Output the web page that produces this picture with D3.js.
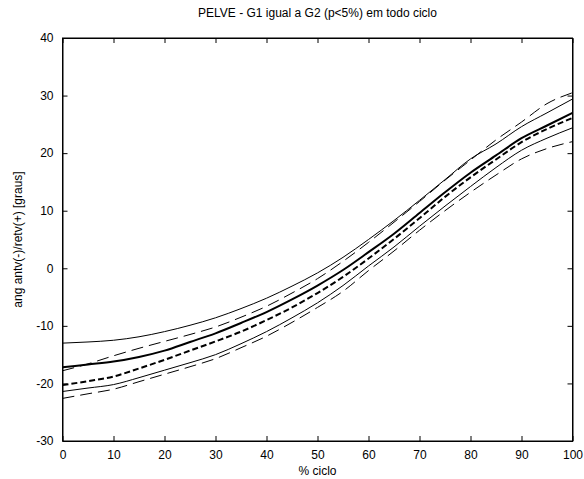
<!DOCTYPE html>
<html>
<head>
<meta charset="utf-8">
<script src="https://cdn.jsdelivr.net/npm/d3@7"></script>
<style>
  body { margin: 0; background: #fff; }
  text { font-family: "Liberation Sans", Arial, sans-serif; fill: #000; }
</style>
</head>
<body>
<div id="chart-container"></div>
<script>
// data
const pct = [0, 5, 10, 15, 20, 25, 30, 35, 40, 45, 50, 55, 60, 65, 70, 75, 80, 85, 90, 95, 100]
const g1Mean = [-17.2, -16.7, -16.2, -15.4, -14.3, -12.8, -11.3, -9.5, -7.6, -5.4, -3.0, -0.3, 2.8, 6.0, 9.6, 13.2, 16.6, 19.6, 22.6, 24.8, 27.0]
const g1Upper = [-13.0, -12.8, -12.5, -11.9, -11.0, -9.9, -8.6, -7.0, -5.2, -3.1, -0.8, 1.9, 5.0, 8.3, 11.8, 15.4, 19.0, 21.6, 24.6, 27.0, 29.4]
const g1Lower = [-21.4, -20.8, -20.2, -19.0, -17.7, -16.4, -15.0, -13.1, -11.0, -8.6, -6.0, -3.0, 0.4, 3.7, 7.3, 10.8, 14.2, 17.5, 20.5, 22.6, 24.4]
const g2Mean = [-20.3, -19.6, -18.8, -17.4, -15.9, -14.3, -12.7, -11.0, -9.0, -6.8, -4.3, -1.5, 1.7, 5.1, 8.7, 12.4, 15.8, 18.9, 21.9, 24.2, 26.1]
const g2Upper = [-17.8, -16.6, -15.2, -13.9, -12.7, -11.5, -10.2, -8.5, -6.6, -4.3, -1.8, 1.2, 4.5, 8.0, 11.6, 15.3, 18.8, 22.3, 25.4, 28.6, 30.5]
const g2Lower = [-22.6, -21.8, -21.0, -19.7, -18.4, -17.1, -15.7, -13.8, -11.8, -9.4, -6.8, -4.0, -0.4, 3.0, 6.6, 10.0, 13.2, 16.2, 19.0, 20.8, 22.0]
const xTicks = [0, 10, 20, 30, 40, 50, 60, 70, 80, 90, 100]
const yTicks = [-30, -20, -10, 0, 10, 20, 30, 40]

// constants
const width = 584
const height = 479
const margin = {left: 62.5, top: 38, right: 11.5, bottom: 38}
const plotW = width - margin.left - margin.right
const plotH = height - margin.top - margin.bottom

const svg = d3.select('#chart-container')
  .append('svg')
  .attr('width', width)
  .attr('height', height)

const g = svg.append('g')
  .attr('transform', `translate(${margin.left}, ${margin.top})`)

const xScale = d3.scaleLinear().domain([0, 100]).range([0, plotW])
const yScale = d3.scaleLinear().domain([-30, 40]).range([plotH, 0])

// axes, ticks inward on all four sides
const fmt = d => d3.format('d')(d).replace('−', '-')
g.append('g')
  .attr('transform', `translate(0, ${plotH})`)
  .call(d3.axisBottom(xScale).tickValues(xTicks).tickSize(-5).tickSizeOuter(0).tickPadding(9).tickFormat(fmt))
g.append('g')
  .call(d3.axisTop(xScale).tickValues(xTicks).tickSize(-5).tickSizeOuter(0).tickFormat(''))
g.append('g')
  .call(d3.axisLeft(yScale).tickValues(yTicks).tickSize(-5).tickSizeOuter(0).tickPadding(9).tickFormat(fmt))
g.append('g')
  .attr('transform', `translate(${plotW}, 0)`)
  .call(d3.axisRight(yScale).tickValues(yTicks).tickSize(-5).tickSizeOuter(0).tickFormat(''))

g.selectAll('.tick line').attr('stroke', '#000')
g.selectAll('.domain').attr('stroke', '#000')
g.selectAll('.tick text').attr('font-size', '12px').attr('font-family', '"Liberation Sans", Arial, sans-serif')

g.append('rect')
  .attr('width', plotW)
  .attr('height', plotH)
  .attr('fill', 'none')
  .attr('stroke', '#000')
  .attr('stroke-width', 1)

// the curves
const series = [
  {values: g1Upper, w: 1, dash: null},
  {values: g1Lower, w: 1, dash: null},
  {values: g2Upper, w: 1, dash: '12,6'},
  {values: g2Lower, w: 1, dash: '12,6'},
  {values: g1Mean, w: 2, dash: null},
  {values: g2Mean, w: 2, dash: '6,3'}
]
const line = d3.line()
  .x((d, i) => xScale(pct[i]))
  .y(d => yScale(d))
  .curve(d3.curveMonotoneX)

g.append('g')
  .selectAll('path')
  .data(series).enter()
  .append('path')
  .attr('d', d => line(d.values))
  .attr('fill', 'none')
  .attr('stroke', '#000')
  .attr('stroke-width', d => d.w)
  .attr('stroke-dasharray', d => d.dash)

// labels
svg.append('text')
  .attr('x', margin.left + plotW / 2)
  .attr('y', 17)
  .attr('text-anchor', 'middle')
  .attr('font-size', '12px')
  .text('PELVE - G1 igual a G2 (p<5%) em todo ciclo')

svg.append('text')
  .attr('x', margin.left + plotW / 2)
  .attr('y', 475)
  .attr('text-anchor', 'middle')
  .attr('font-size', '12px')
  .text('% ciclo')

svg.append('text')
  .attr('transform', `translate(22, ${margin.top + plotH / 2}) rotate(-90)`)
  .attr('text-anchor', 'middle')
  .attr('font-size', '12px')
  .text('ang antv(-)/retv(+) [graus]')
</script>
</body>
</html>
